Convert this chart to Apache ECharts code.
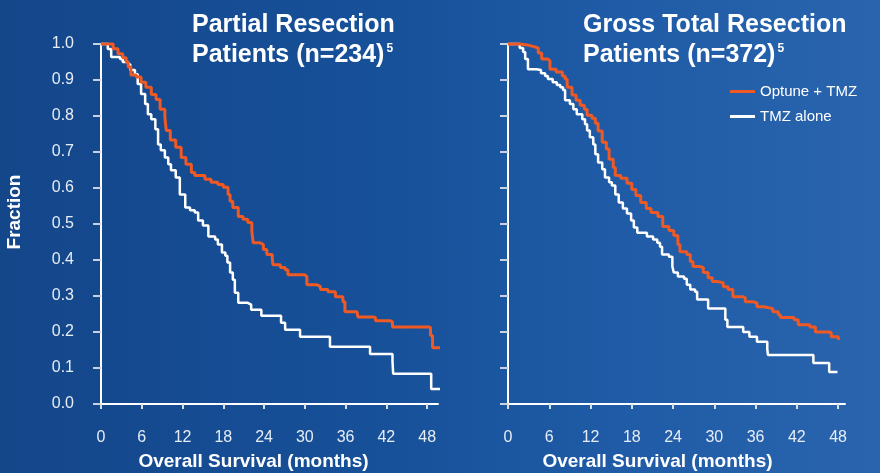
<!DOCTYPE html>
<html>
<head>
<meta charset="utf-8">
<script src="https://cdn.jsdelivr.net/npm/echarts@6/dist/echarts.min.js"></script>
<style>
html,body{margin:0;padding:0;}
#c{width:880px;height:473px;background:linear-gradient(90deg,#14468a 0%,#17519a 45%,#1f5ba6 70%,#2a64ae 100%);}
</style>
</head>
<body>
<div id="c"></div>
<script>
// ---- Data ----
const seriesNames = ['Optune + TMZ', 'TMZ alone'];
const xTicks = [0, 6, 12, 18, 24, 30, 36, 42, 48];
const yTicks = [0, 0.1, 0.2, 0.3, 0.4, 0.5, 0.6, 0.7, 0.8, 0.9, 1.0];
const panelTitles = ['Partial Resection', 'Gross Total Resection'];
const panelN = ['Patients (n=234)', 'Patients (n=372)'];

// Partial resection, Optune + TMZ: [month, fraction]
const prOptune = [
 [0,1.0],[1.3,1.0],[1.8,0.987],[2.5,0.973],[3.2,0.962],[3.7,0.95],[4.0,0.936],[4.4,0.914],
 [5.2,0.908],[5.9,0.894],[6.6,0.88],[7.4,0.86],[8.1,0.846],[8.7,0.819],[9.4,0.797],[9.6,0.76],
 [10.2,0.733],[11.0,0.713],[11.8,0.685],[12.5,0.666],[13.3,0.643],[13.8,0.635],[15.3,0.624],
 [16.2,0.616],[17.2,0.61],[18.0,0.602],[18.7,0.582],[19.0,0.563],[19.4,0.546],[20.2,0.521],
 [20.9,0.513],[21.6,0.504],[22.2,0.479],[22.4,0.448],[23.4,0.443],[23.9,0.429],[24.4,0.415],
 [25.2,0.407],[25.3,0.387],[26.4,0.379],[27.1,0.373],[27.5,0.359],[30.0,0.354],[30.3,0.331],
 [31.8,0.326],[32.3,0.318],[33.4,0.312],[34.5,0.298],[35.6,0.284],[35.9,0.256],[37.7,0.253],
 [37.8,0.242],[40.1,0.24],[40.4,0.231],[42.6,0.228],[42.9,0.214],[48.2,0.212],[48.5,0.19],
 [48.8,0.156],[50.2,0.156]
];
// Partial resection, TMZ alone
const prTmz = [
 [0,1.0],[0.5,1.0],[1.0,0.986],[1.5,0.964],[2.8,0.958],[3.2,0.95],[4.0,0.944],[4.3,0.928],
 [5.0,0.916],[5.4,0.889],[5.9,0.861],[6.5,0.833],[6.9,0.805],[7.4,0.791],[8.0,0.763],[8.4,0.721],
 [8.8,0.705],[9.4,0.685],[9.9,0.666],[10.3,0.649],[11.0,0.629],[11.6,0.582],[12.4,0.546],
 [13.1,0.538],[13.8,0.532],[14.3,0.51],[15.0,0.496],[15.8,0.465],[16.8,0.457],[17.2,0.443],
 [17.8,0.421],[18.3,0.412],[18.6,0.393],[19.0,0.365],[19.4,0.345],[19.7,0.309],[20.2,0.281],
 [21.6,0.276],[22.1,0.262],[23.6,0.245],[26.5,0.226],[27.1,0.206],[29.3,0.187],[33.7,0.159],
 [39.6,0.139],[42.9,0.12],[43.0,0.084],[48.6,0.042],[49.9,0.042]
];
// Gross total resection, Optune + TMZ
const gtrOptune = [
 [0,1.0],[1.7,0.997],[2.8,0.994],[3.5,0.989],[4.4,0.975],[4.9,0.958],[5.8,0.953],[6.1,0.93],
 [7.0,0.922],[7.9,0.911],[8.3,0.903],[8.6,0.88],[9.3,0.858],[9.9,0.844],[10.5,0.83],[11.1,0.819],
 [11.5,0.802],[12.2,0.794],[12.7,0.78],[13.1,0.758],[13.7,0.727],[14.3,0.708],[14.7,0.68],
 [15.3,0.657],[15.6,0.635],[16.4,0.627],[17.3,0.613],[18.0,0.596],[18.6,0.579],[19.3,0.56],
 [20.1,0.543],[20.8,0.532],[21.8,0.521],[22.5,0.493],[23.4,0.482],[24.1,0.468],[24.7,0.443],
 [25.0,0.423],[26.0,0.415],[26.5,0.396],[26.9,0.382],[27.9,0.379],[28.4,0.365],[29.1,0.351],
 [29.7,0.34],[30.4,0.337],[31.3,0.326],[32.0,0.318],[32.7,0.298],[34.2,0.295],[34.5,0.284],
 [35.6,0.281],[36.2,0.27],[37.2,0.265],[38.5,0.256],[39.3,0.248],[39.6,0.24],[41.6,0.234],
 [42.2,0.22],[43.9,0.214],[44.7,0.2],[46.7,0.198],[47.0,0.187],[48.0,0.184],[48.1,0.178],[48.2,0.178]
];
// Gross total resection, TMZ alone
const gtrTmz = [
 [0,1.0],[1.2,1.0],[1.7,0.989],[2.2,0.978],[2.5,0.958],[2.9,0.93],[4.1,0.928],[4.8,0.919],
 [5.4,0.911],[5.8,0.903],[6.5,0.894],[7.1,0.886],[7.6,0.88],[8.0,0.872],[8.3,0.844],[9.0,0.833],
 [9.5,0.819],[10.0,0.805],[10.8,0.791],[11.2,0.777],[11.5,0.76],[11.9,0.741],[12.4,0.721],
 [12.7,0.694],[13.1,0.671],[13.7,0.652],[14.1,0.629],[14.7,0.616],[15.1,0.607],[15.6,0.582],
 [16.1,0.56],[16.7,0.543],[17.3,0.529],[17.9,0.51],[18.3,0.49],[18.8,0.476],[20.2,0.465],
 [21.1,0.457],[21.7,0.448],[22.1,0.437],[22.4,0.415],[23.4,0.409],[23.9,0.382],[24.1,0.365],
 [24.7,0.354],[25.6,0.348],[26.0,0.331],[26.5,0.318],[27.2,0.312],[27.5,0.29],[29.1,0.265],
 [31.3,0.265],[31.6,0.234],[31.9,0.214],[34.2,0.2],[35.1,0.187],[36.2,0.173],[37.7,0.153],
 [37.8,0.136],[44.4,0.114],[46.7,0.089],[47.9,0.089]
];

// ---- Chart ----
const chart = echarts.init(document.getElementById('c'), null, {renderer: 'canvas'});
const ORANGE = '#ef5a24';
const WHITE = '#ffffff';
const LABEL = '#e6edf5';
const FONT = 'Liberation Sans, Arial, sans-serif';

function xAxis(gi, max, shiftLeft) {
  return {
    type: 'value', gridIndex: gi, min: 0, max: max,
    axisLine: {show: true, lineStyle: {color: '#ffffff', width: 2}},
    axisTick: {show: true, length: 5, lineStyle: {color: '#d8dee6', width: 2}, customValues: xTicks},
    axisLabel: {color: LABEL, fontSize: 16, fontFamily: FONT, margin: 26, customValues: xTicks},
    splitLine: {show: false},
    name: 'Overall Survival (months)', nameLocation: 'middle', nameGap: 48,
    nameTextStyle: {color: '#ffffff', fontWeight: 'bold', fontSize: 19, fontFamily: FONT,
      padding: [0, shiftLeft * 2, 0, 0]}
  };
}
function yAxis(gi, showLabels) {
  return {
    type: 'value', gridIndex: gi, min: 0, max: 1, interval: 0.1,
    axisLine: {show: true, lineStyle: {color: '#ffffff', width: 2}},
    axisTick: {show: true, length: 8, lineStyle: {color: '#c9d2dd', width: 2}},
    axisLabel: {show: showLabels, color: LABEL, fontSize: 16, fontFamily: FONT, margin: 27,
      formatter: v => v.toFixed(1)},
    splitLine: {show: false},
    name: showLabels ? 'Fraction' : '', nameLocation: 'middle', nameGap: 77, nameRotate: 90,
    nameTextStyle: {color: '#ffffff', fontWeight: 'bold', fontSize: 19, fontFamily: FONT,
      padding: [0, 0, 0, 24]}
  };
}
function line(name, data, xi, color, w) {
  return {
    name: name, type: 'line', xAxisIndex: xi, yAxisIndex: xi, data: data, step: 'end',
    symbol: 'none', clip: false, lineStyle: {color: color, width: w}, itemStyle: {color: color},
    z: color === ORANGE ? 4 : 3
  };
}
function titleRich(i, left) {
  return {
    left: left, top: 5,
    text: '{t|' + panelTitles[i] + '}\n{t|' + panelN[i] + '}{s|5}',
    textStyle: {
      rich: {
        t: {color: '#ffffff', fontSize: 25, fontWeight: 'bold', fontFamily: FONT, lineHeight: 30},
        s: {color: '#ffffff', fontSize: 12, fontWeight: 'bold', fontFamily: FONT, lineHeight: 30, padding: [0, 0, 12, 2]}
      }
    }
  };
}

chart.setOption({
  animation: false,
  backgroundColor: 'transparent',
  title: [titleRich(0, 187), titleRich(1, 578)],
  legend: {
    orient: 'vertical', left: 730, top: 84, padding: 0, itemWidth: 25, itemHeight: 3, itemGap: 10,
    icon: 'rect', data: seriesNames,
    textStyle: {color: '#ffffff', fontSize: 15, fontFamily: FONT}
  },
  grid: [
    {left: 101, top: 44, width: 337, height: 360, containLabel: false, outerBoundsMode: 'none'},
    {left: 508, top: 44, width: 337, height: 360, containLabel: false, outerBoundsMode: 'none'}
  ],
  xAxis: [xAxis(0, 49.6, 16), xAxis(1, 49.0, 19)],
  yAxis: [yAxis(0, true), yAxis(1, false)],
  series: [
    line(seriesNames[1], prTmz, 0, WHITE, 2.5),
    line(seriesNames[0], prOptune, 0, ORANGE, 3),
    line(seriesNames[1], gtrTmz, 1, WHITE, 2.5),
    line(seriesNames[0], gtrOptune, 1, ORANGE, 3)
  ]
});
</script>
</body>
</html>
